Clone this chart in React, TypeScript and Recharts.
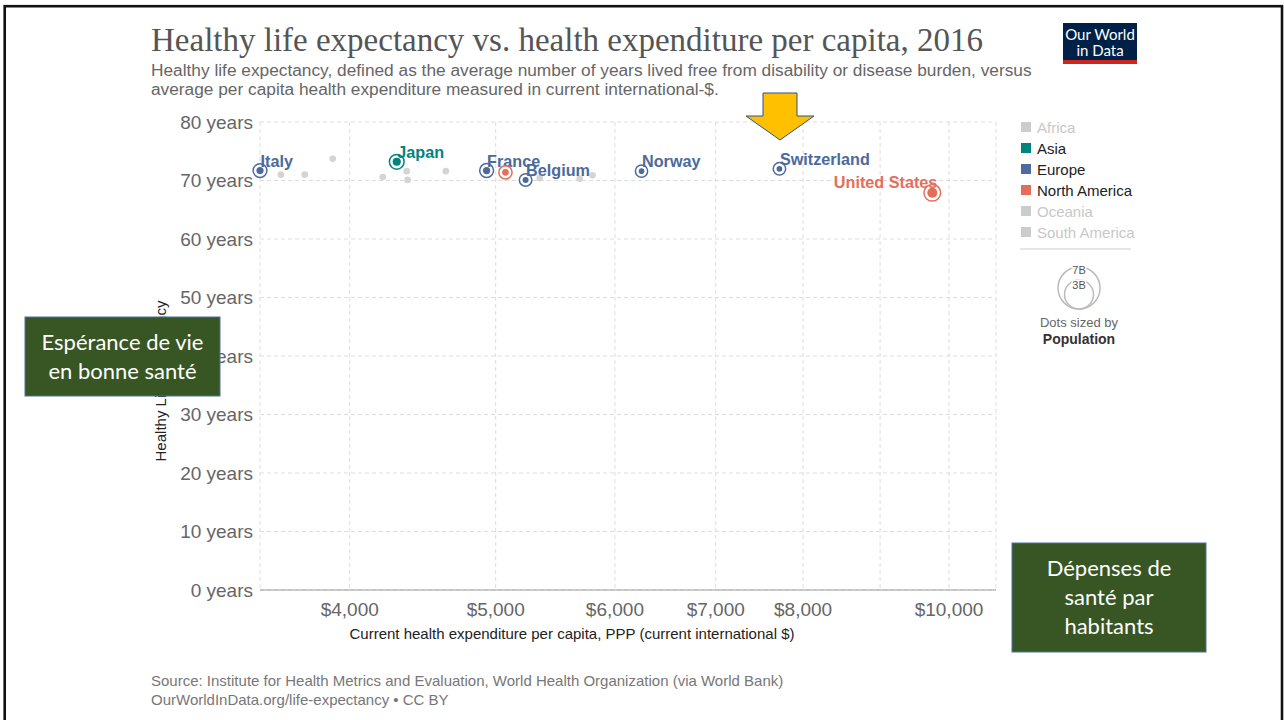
import React from 'react';
import { ScatterChart, Scatter, XAxis, YAxis, CartesianGrid } from 'recharts';

// ---- Data ----
const highlightCountries = ['Italy', 'Japan', 'France', 'Canada', 'Belgium', 'Norway', 'Switzerland', 'United States'];
const highlightContinents = ['Europe', 'Asia', 'Europe', 'North America', 'Europe', 'Europe', 'Europe', 'North America'];
const highlightExpenditure = [3487, 4298, 4931, 5075, 5234, 6249, 7716, 9748];
const highlightHale = [71.7, 73.2, 71.7, 71.4, 70.1, 71.6, 72.0, 67.9];
const highlightPopulation = [60.6, 127.0, 66.9, 36.3, 11.3, 5.2, 8.4, 323.1];
const highlightLabels = ['Italy', 'Japan', 'France', '', 'Belgium', 'Norway', 'Switzerland', 'United States'];

const otherExpenditure = [3600, 3734, 3897, 4207, 4364, 4370, 4633, 5348, 5685, 5799];
const otherHale = [71.0, 71.0, 73.7, 70.6, 71.6, 70.1, 71.6, 70.4, 70.3, 70.9];

const xTicks = [4000, 5000, 6000, 7000, 8000, 9000, 10000];
const xTickLabels = ['$4,000', '$5,000', '$6,000', '$7,000', '$8,000', '', '$10,000'];
const yTicks = [0, 10, 20, 30, 40, 50, 60, 70, 80];

const legendContinents = ['Africa', 'Asia', 'Europe', 'North America', 'Oceania', 'South America'];
const activeContinents = ['Asia', 'Europe', 'North America'];

const continentColors: Record<string, string> = {
  Africa: '#cccccc',
  Asia: '#00847e',
  Europe: '#4c6a9c',
  'North America': '#e56e5a',
  Oceania: '#cccccc',
  'South America': '#cccccc',
};

const highlightData = highlightCountries.map((c, i) => ({
  name: c,
  x: highlightExpenditure[i],
  y: highlightHale[i],
  pop: highlightPopulation[i],
  continent: highlightContinents[i],
  label: highlightLabels[i],
}));

const otherData = otherExpenditure.map((x, i) => ({ x, y: otherHale[i] }));

const PLOT_RIGHT = 996;

const GrayDot = (props: any) => {
  const { cx, cy } = props;
  if (cx == null || cy == null) return null;
  return <circle cx={cx} cy={cy} r={3.3} fill="#d4d4d4" />;
};

const HighlightDot = (props: any) => {
  const { cx, cy, payload } = props;
  if (cx == null || cy == null) return null;
  const color = continentColors[payload.continent];
  const r = 2.5 + Math.sqrt(payload.pop) * 0.14;
  const ring = r + 3.3;
  const label: string = payload.label;
  const estWidth = label.length * 8.5;
  const toLeft = cx + estWidth > PLOT_RIGHT;
  return (
    <g>
      <circle cx={cx} cy={cy} r={ring} fill="#fff" fillOpacity={0.6} stroke={color} strokeWidth={1.5} />
      <circle cx={cx} cy={cy} r={r} fill={color} />
      {label ? (
        <text
          x={toLeft ? cx + 5 : cx + 0.5}
          y={toLeft ? cy - 5 : cy - 4}
          textAnchor={toLeft ? 'end' : 'start'}
          fontFamily="Liberation Sans, Arial, sans-serif"
          fontWeight="bold"
          fontSize={16.2}
          fill={color}
        >
          {label}
        </text>
      ) : null}
    </g>
  );
};

const sans = 'Liberation Sans, Arial, sans-serif';

export default function App() {
  return (
    <div style={{ position: 'absolute', left: 0, top: 0, width: 1284, height: 720, background: '#fff', overflow: 'hidden' }}>
      <div style={{ position: 'absolute', left: 0, top: 0 }}>
        <ScatterChart width={1284} height={720} margin={{ top: 122, right: 288, bottom: 90, left: 200 }}>
          <CartesianGrid stroke="#dddddd" strokeDasharray="4 3" />
          <XAxis
            type="number"
            dataKey="x"
            scale="log"
            domain={[3487, 10745]}
            ticks={xTicks}
            interval={0}
            height={40}
            tickLine={false}
            tickSize={0}
            tickMargin={13}
            axisLine={{ stroke: '#9a9a9a', strokeWidth: 1.2 }}
            tick={{ fill: '#666', fontSize: 19, fontFamily: sans }}
            tickFormatter={(v: number) => {
              const i = xTicks.indexOf(v);
              return i >= 0 ? xTickLabels[i] : '';
            }}
          />
          <YAxis
            type="number"
            dataKey="y"
            domain={[0, 80]}
            ticks={yTicks}
            interval={0}
            width={60}
            axisLine={false}
            tickLine={false}
            tickSize={0}
            tickMargin={7}
            tick={{ fill: '#666', fontSize: 19, fontFamily: sans }}
            tickFormatter={(v: number) => `${v} years`}
          />
          <Scatter data={otherData} shape={GrayDot} isAnimationActive={false} />
          <Scatter data={highlightData} shape={HighlightDot} isAnimationActive={false} />
        </ScatterChart>
      </div>
      <svg width={1284} height={720} style={{ position: 'absolute', left: 0, top: 0, pointerEvents: 'none' }}>
        {/* Title & subtitle */}
        <text x={151} y={51} fontFamily="Liberation Serif, Times New Roman, serif" fontSize={33} fill="#555">
          Healthy life expectancy vs. health expenditure per capita, 2016
        </text>
        <text x={151} y={76} fontFamily={sans} fontSize={17.3} fill="#666">
          Healthy life expectancy, defined as the average number of years lived free from disability or disease burden, versus
        </text>
        <text x={151} y={95} fontFamily={sans} fontSize={17.3} fill="#666">
          average per capita health expenditure measured in current international-$.
        </text>

        {/* Logo */}
        <rect x={1063} y={23} width={74} height={41} fill="#002147" />
        <rect x={1063} y={60} width={74} height={4} fill="#ce261e" />
        <text x={1100} y={40} textAnchor="middle" fontFamily="Lato, sans-serif" fontSize={15} fill="#fff">Our World</text>
        <text x={1100} y={56} textAnchor="middle" fontFamily="Lato, sans-serif" fontSize={15} fill="#fff">in Data</text>

        {/* Axis titles */}
        <text x={572} y={639} textAnchor="middle" fontFamily={sans} fontSize={15} fill="#222">
          Current health expenditure per capita, PPP (current international $)
        </text>
        <text x={160} y={381} transform="rotate(-90 160 381)" textAnchor="middle" dominantBaseline="central" fontFamily={sans} fontSize={15} fill="#222">
          Healthy Life Expectancy
        </text>

        {/* Legend */}
        {legendContinents.map((c, i) => {
          const cy = 127 + i * 21;
          const active = activeContinents.includes(c);
          return (
            <g key={c}>
              <rect x={1021} y={cy - 5} width={10} height={10} fill={continentColors[c]} />
              <text x={1037} y={cy + 5.5} fontFamily={sans} fontSize={15} fill={active ? '#222' : '#c8c8c8'}>
                {c}
              </text>
            </g>
          );
        })}
        <line x1={1020} x2={1131} y1={249} y2={249} stroke="#cccccc" strokeWidth={1} />
        <circle cx={1079} cy={288} r={21} fill="none" stroke="#bbb" strokeWidth={1.5} />
        <circle cx={1079} cy={294.5} r={14.5} fill="none" stroke="#bbb" strokeWidth={1.5} />
        <text x={1079} y={274} textAnchor="middle" fontFamily={sans} fontSize={11} fill="#555" stroke="#fff" strokeWidth={3} paintOrder="stroke">7B</text>
        <text x={1079} y={289} textAnchor="middle" fontFamily={sans} fontSize={11} fill="#555" stroke="#fff" strokeWidth={3} paintOrder="stroke">3B</text>
        <text x={1079} y={327} textAnchor="middle" fontFamily={sans} fontSize={13} fill="#666">Dots sized by</text>
        <text x={1079} y={344} textAnchor="middle" fontFamily={sans} fontSize={14} fontWeight="bold" fill="#333">Population</text>

        {/* Source */}
        <text x={151} y={686} fontFamily={sans} fontSize={15} fill="#777">
          Source: Institute for Health Metrics and Evaluation, World Health Organization (via World Bank)
        </text>
        <text x={151} y={705} fontFamily={sans} fontSize={15} fill="#777">
          OurWorldInData.org/life-expectancy • CC BY
        </text>

        {/* Yellow arrow */}
        <polygon
          points="763,93 797,93 797,116 814,116 780,140 746,116 763,116"
          fill="#ffc000"
          stroke="#2f528f"
          strokeWidth={1}
        />

        {/* Green annotation boxes */}
        <rect x={25} y={317} width={195} height={79} fill="#375623" stroke="#4a72a8" strokeWidth={1} />
        <text x={122.5} y={350} textAnchor="middle" fontFamily="Lato, sans-serif" fontSize={22} fill="#fff">Espérance de vie</text>
        <text x={122.5} y={379} textAnchor="middle" fontFamily="Lato, sans-serif" fontSize={22} fill="#fff">en bonne santé</text>

        <rect x={1012} y={543} width={194} height={109} fill="#375623" stroke="#4a72a8" strokeWidth={1} />
        <text x={1109} y={576} textAnchor="middle" fontFamily="Lato, sans-serif" fontSize={22} fill="#fff">Dépenses de</text>
        <text x={1109} y={605} textAnchor="middle" fontFamily="Lato, sans-serif" fontSize={22} fill="#fff">santé par</text>
        <text x={1109} y={634} textAnchor="middle" fontFamily="Lato, sans-serif" fontSize={22} fill="#fff">habitants</text>

        {/* Slide frame */}
        <rect x={4.7} y={6.2} width={1277.3} height={730} fill="none" stroke="#111" strokeWidth={2.6} />
      </svg>
    </div>
  );
}
